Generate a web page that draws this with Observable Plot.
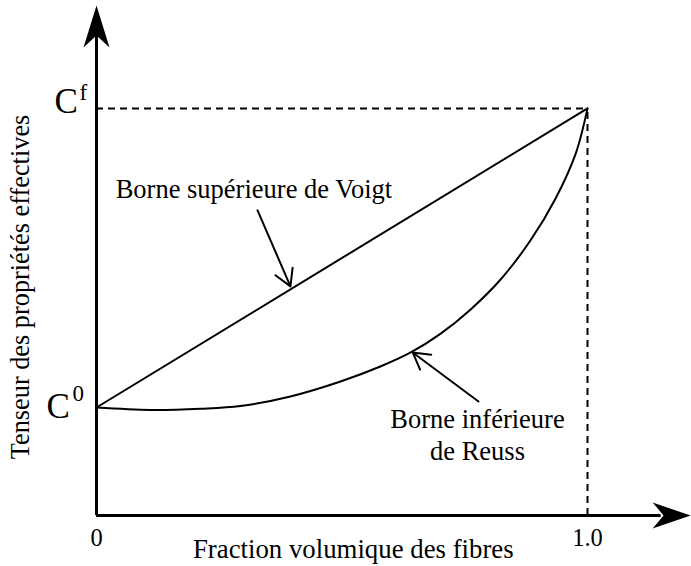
<!DOCTYPE html>
<html>
<head>
<meta charset="utf-8">
<script src="https://cdn.jsdelivr.net/npm/d3@7"></script>
<script src="https://cdn.jsdelivr.net/npm/@observablehq/plot@0.6"></script>
<style>
  html, body { margin: 0; padding: 0; background: #fff; }
  svg { display: block; }
</style>
</head>
<body>
<div id="chart"></div>
<script>
// ---- data ----
// x: fibre volume fraction (0 .. 1); y: effective property, C0 = 1, Cf = 2
const xTicks = [0, 1];
const xTickLabels = ["0", "1.0"];
const yLevels = [1, 2];             // C^0, C^f
const yLevelSup = ["0", "f"];
const yAxisMin = 0.639;             // where the x axis crosses
const yAxisMax = 2.344;             // tip of the y arrow
const xAxisMax = 1.21;              // tip of the x arrow

const voigtX = [0, 1];
const voigtY = [1, 2];

const reussX = [0, 0.110, 0.212, 0.293, 0.395, 0.497, 0.578, 0.640, 0.701, 0.762, 0.823, 0.884, 0.935, 0.976, 1];
const reussY = [1, 0.992, 0.996, 1.005, 1.037, 1.087, 1.137, 1.184, 1.247, 1.328, 1.428, 1.559, 1.699, 1.849, 2];

const voigtLabel = "Borne supérieure de Voigt";
const voigtLabelX = 0.039, voigtLabelY = 1.702;
const reussLabel = "Borne inférieure\nde Reuss";
const reussLabelX = 0.776, reussLabelY = 0.823;
const pointerFromX = [0.328, 0.778];
const pointerFromY = [1.659, 1.020];
const pointerToX = [0.395, 0.644];
const pointerToY = [1.405, 1.184];

const xTitle = "Fraction volumique des fibres";
const xTitleX = 0.523;
const yTitle = "Tenseur des propriétés effectives";
const yTitleY = 1.403;

// ---- tables ----
const voigt = voigtX.map((x, i) => ({x, y: voigtY[i]}));
const reuss = reussX.map((x, i) => ({x, y: reussY[i]}));
const pointers = pointerFromX.map((x1, i) => ({x1, y1: pointerFromY[i], x2: pointerToX[i], y2: pointerToY[i]}));
const levels = yLevels.map((y, i) => ({y, sup: yLevelSup[i]}));
const ticks = xTicks.map((x, i) => ({x, label: xTickLabels[i]}));

// filled "stealth" arrowhead, tip at origin, pointing up
const stealthY = { draw(ctx) { ctx.moveTo(0, 0); ctx.lineTo(13, 42); ctx.lineTo(0, 30); ctx.lineTo(-13, 42); ctx.closePath(); } };
const stealthX = { draw(ctx) { ctx.moveTo(0, 0); ctx.lineTo(13, 38); ctx.lineTo(0, 27); ctx.lineTo(-13, 38); ctx.closePath(); } };

const font = "Liberation Serif";
const T = {fill: "#000", fontFamily: font};

const chart = Plot.plot({
  width: 691,
  height: 566,
  marginLeft: 96,
  marginRight: 104,
  marginTop: 5,
  marginBottom: 51,
  x: {domain: [0, 1], axis: null},
  y: {domain: [yAxisMin, yAxisMax], axis: null},
  style: {fontFamily: font, background: "#fff", color: "#000"},
  marks: [
    // dashed guides to C^f / 1.0
    Plot.ruleY([yLevels[1]], {x1: 0, x2: xTicks[1], stroke: "#000", strokeWidth: 2, strokeDasharray: "7,5"}),
    Plot.ruleX([xTicks[1]], {y1: yAxisMin, y2: yLevels[1], stroke: "#000", strokeWidth: 2, strokeDasharray: "7,5"}),
    // bounds
    Plot.line(voigt, {x: "x", y: "y", stroke: "#000", strokeWidth: 2}),
    Plot.line(reuss, {x: "x", y: "y", stroke: "#000", strokeWidth: 2, curve: "catmull-rom"}),
    // axes
    Plot.ruleX([0], {y1: yAxisMin, y2: yAxisMax - 0.08, stroke: "#000", strokeWidth: 3}),
    Plot.ruleY([yAxisMin], {x1: 0, x2: xAxisMax - 0.06, stroke: "#000", strokeWidth: 3}),
    Plot.dot([{x: 0, y: yAxisMax}], {x: "x", y: "y", symbol: stealthY, fill: "#000", stroke: "none"}),
    Plot.dot([{x: xAxisMax, y: yAxisMin}], {x: "x", y: "y", symbol: stealthX, rotate: 90, fill: "#000", stroke: "none"}),
    // pointers
    Plot.arrow(pointers, {x1: "x1", y1: "y1", x2: "x2", y2: "y2", stroke: "#000", strokeWidth: 2, headLength: 14, bend: 0}),
    // annotation labels
    Plot.text([voigtLabel], {x: voigtLabelX, y: voigtLabelY, text: d => d, textAnchor: "start", lineAnchor: "bottom", fontSize: 26.5, ...T}),
    Plot.text([reussLabel], {x: reussLabelX, y: reussLabelY, text: d => d, textAnchor: "middle", lineAnchor: "bottom", lineHeight: 1.21, fontSize: 26.5, ...T}),
    // C^0 label
    Plot.text([levels[0]], {x: 0, y: "y", text: () => "C", textAnchor: "start", lineAnchor: "bottom", dx: -50, dy: 10, fontSize: 35, ...T}),
    Plot.text([levels[0]], {x: 0, y: "y", text: "sup", textAnchor: "start", lineAnchor: "bottom", dx: -24, dy: -7, fontSize: 23, ...T}),
    // C^f label
    Plot.text([levels[1]], {x: 0, y: "y", text: () => "C", textAnchor: "start", lineAnchor: "bottom", dx: -42, dy: 5, fontSize: 35, ...T}),
    Plot.text([levels[1]], {x: 0, y: "y", text: "sup", textAnchor: "start", lineAnchor: "bottom", dx: -17, dy: -8, fontSize: 23, ...T}),
    // x tick labels
    Plot.text(ticks, {x: "x", y: yAxisMin, text: "label", lineAnchor: "bottom", dy: 30, fontSize: 24.5, ...T}),
    // axis titles
    Plot.text([xTitle], {x: xTitleX, y: yAxisMin, text: d => d, lineAnchor: "bottom", dy: 42, fontSize: 26.8, ...T}),
    Plot.text([yTitle], {x: 0, y: yTitleY, text: d => d, rotate: -90, lineAnchor: "bottom", dx: -68, fontSize: 26.3, ...T})
  ]
});
document.getElementById("chart").appendChild(chart);
</script>
</body>
</html>
